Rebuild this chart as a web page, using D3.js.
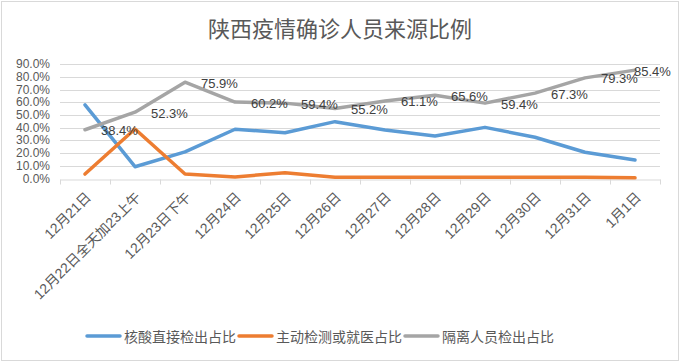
<!DOCTYPE html>
<html>
<head>
<meta charset="utf-8">
<script src="https://cdn.jsdelivr.net/npm/d3@7"></script>
<style>
  body { margin: 0; background: #fff; }
  svg text { font-family: "Liberation Sans", "Noto Sans CJK SC", sans-serif; }
</style>
</head>
<body>
<div id="vis"></div>
<script>
// datos del grafico
const CATEGORIAS = ["12月21日", "12月22日全天加23上午", "12月23日下午", "12月24日", "12月25日",
  "12月26日", "12月27日", "12月28日", "12月29日", "12月30日", "12月31日", "1月1日"];
const NUCLEICO = [0.58, 0.093, 0.21, 0.388, 0.361, 0.448, 0.382, 0.335, 0.403, 0.325, 0.207, 0.146];
const ACTIVO = [0.035, 0.39, 0.035, 0.012, 0.046, 0.01, 0.01, 0.01, 0.01, 0.01, 0.009, 0.005];
const AISLADOS = [0.384, 0.523, 0.759, 0.602, 0.594, 0.552, 0.611, 0.656, 0.594, 0.673, 0.793, 0.854];
const SERIES = ["核酸直接检出占比", "主动检测或就医占比", "隔离人员检出占比"];
const COLORES = ["#5B9BD5", "#ED7D31", "#A5A5A5"];
const Y_TICKS = [0, 0.1, 0.2, 0.3, 0.4, 0.5, 0.6, 0.7, 0.8, 0.9];

const WIDTH = 680;
const HEIGHT = 362;
const MARGIN = { top: 64, bottom: 183, left: 60, right: 660 };

const SVG = d3.select("#vis").append("svg").attr("width", WIDTH).attr("height", HEIGHT);

// borde
SVG.append("rect")
  .attr("x", 1.5).attr("y", 1.5)
  .attr("width", WIDTH - 3).attr("height", HEIGHT - 3)
  .attr("fill", "#fff").attr("stroke", "#d9d9d9");

SVG.append("text")
  .attr("x", 340).attr("y", 27)
  .attr("text-anchor", "middle").attr("dominant-baseline", "central")
  .attr("font-size", 22).attr("fill", "#595959")
  .style("font-family", "'Noto Sans CJK SC', sans-serif")
  .text("陕西疫情确诊人员来源比例");

const xScale = d3.scaleBand().domain(CATEGORIAS).range([MARGIN.left, MARGIN.right]);
const yScale = d3.scaleLinear().domain([0, 0.9]).range([178.5, 64.3]);

// grilla
SVG.append("g").selectAll("line")
  .data(Y_TICKS.slice(1))
  .join("line")
  .attr("x1", MARGIN.left).attr("x2", MARGIN.right)
  .attr("y1", d => Math.round(yScale(d)) + 0.5).attr("y2", d => Math.round(yScale(d)) + 0.5)
  .attr("stroke", "#d9d9d9");

// eje Y
SVG.append("g").selectAll("text")
  .data(Y_TICKS)
  .join("text")
  .attr("x", 50).attr("y", d => yScale(d))
  .attr("text-anchor", "end").attr("dominant-baseline", "central")
  .attr("font-size", 12).attr("fill", "#595959")
  .text(d => d3.format(".1%")(d));

// eje X
const ejeX = SVG.append("g").attr("transform", `translate(0, ${Math.round(yScale(0)) + 0.5})`)
  .call(d3.axisBottom(xScale).tickSizeOuter(0).tickSizeInner(5).tickValues([]));
ejeX.select(".domain").attr("stroke", "#d9d9d9");
ejeX.selectAll(".borde")
  .data(CATEGORIAS.concat(["fin"]))
  .join("line")
  .attr("class", "borde")
  .attr("x1", (d, i) => (i < CATEGORIAS.length ? xScale(d) : MARGIN.right) + 0.5)
  .attr("x2", (d, i) => (i < CATEGORIAS.length ? xScale(d) : MARGIN.right) + 0.5)
  .attr("y1", 0).attr("y2", 5)
  .attr("stroke", "#d9d9d9");

SVG.append("g").selectAll("text")
  .data(CATEGORIAS)
  .join("text")
  .attr("transform", d => `translate(${xScale(d) + xScale.bandwidth() / 2 + 7}, 198) rotate(-45)`)
  .attr("text-anchor", "end")
  .attr("font-size", 14).attr("fill", "#595959")
  .text(d => d);

// lineas
const linea = d3.line()
  .x((d, i) => xScale(CATEGORIAS[i]) + xScale.bandwidth() / 2)
  .y(d => yScale(d));

SVG.append("g").selectAll("path")
  .data([NUCLEICO, ACTIVO, AISLADOS])
  .join("path")
  .attr("d", d => linea(d))
  .attr("fill", "none")
  .attr("stroke", (d, i) => COLORES[i])
  .attr("stroke-width", 3.5)
  .attr("stroke-linejoin", "round")
  .attr("stroke-linecap", "round");

// etiquetas de la serie gris
SVG.append("g").selectAll("text")
  .data(AISLADOS)
  .join("text")
  .attr("x", (d, i) => Math.min(xScale(CATEGORIAS[i]) + xScale.bandwidth() / 2 + 16, 634))
  .attr("y", d => yScale(d) + 1)
  .attr("dominant-baseline", "central")
  .attr("font-size", 13).attr("fill", "#404040")
  .text(d => d3.format(".1%")(d));

// leyenda
const leyenda = SVG.append("g").selectAll("g")
  .data(SERIES)
  .join("g")
  .attr("transform", (d, i) => `translate(${[87, 239, 405][i]}, 336)`);
leyenda.append("line")
  .attr("x1", 0).attr("x2", 33)
  .attr("stroke", (d, i) => COLORES[i]).attr("stroke-width", 3.5)
  .attr("stroke-linecap", "round");
leyenda.append("text")
  .attr("x", 37).attr("dominant-baseline", "central")
  .attr("font-size", 14).attr("fill", "#595959")
  .style("font-family", "'Noto Sans CJK SC', sans-serif")
  .text(d => d);
</script>
</body>
</html>
